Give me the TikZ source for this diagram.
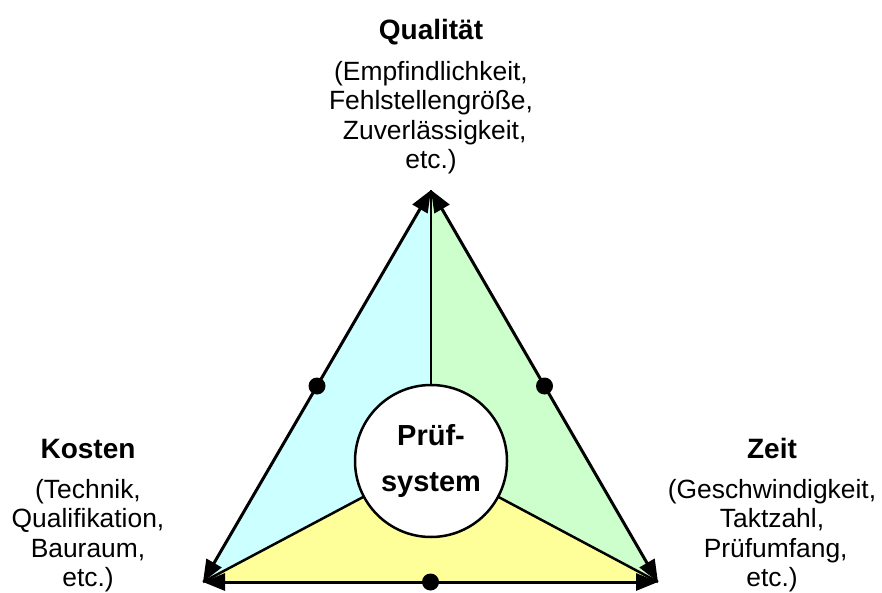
\documentclass[tikz,border=0pt]{standalone}
\usepackage{fontspec}
\setmainfont{Liberation Sans}
\usetikzlibrary{arrows.meta, positioning}

\definecolor{costfill}{HTML}{CCFFFF}
\definecolor{timefill}{HTML}{CCFFCC}
\definecolor{basefill}{HTML}{FFFF99}

\begin{document}
\begin{tikzpicture}[
    x=1pt, y=-1pt,
    edge/.style={line width=3pt, -{Triangle[length=22pt, width=17pt]}},
    spoke/.style={line width=2.5pt},
    dot/.style={circle, fill=black, inner sep=0pt, minimum size=17pt},
    hub/.style={circle, draw, fill=white, line width=2.5pt, minimum size=152pt, inner sep=0pt, align=center, font=\bfseries\fontsize{29}{46}\selectfont},
    title/.style={anchor=base, inner sep=0pt, font=\bfseries\fontsize{28}{32}\selectfont},
    info/.style={anchor=north, inner sep=0pt, align=center, font=\fontsize{26.4}{29.5}\selectfont}
]
\useasboundingbox (0,0) rectangle (882,593);

% Corners and centre
\coordinate (top) at (431,190);
\coordinate (left) at (203,582);
\coordinate (right) at (658,582);
\coordinate (mid) at (431,461);

% Coloured sectors
\fill[costfill] (mid) -- (top) -- (left) -- cycle;
\fill[timefill] (mid) -- (top) -- (right) -- cycle;
\fill[basefill] (mid) -- (left) -- (right) -- cycle;

% Spokes
\draw[spoke] (mid) -- (top);
\draw[spoke] (mid) -- (left);
\draw[spoke] (mid) -- (right);

% Hub
\node[hub] (system) at (mid) {Prüf-\\system};

% Edges with midpoints
\path (top) -- (left) coordinate[midway] (costmid);
\path (top) -- (right) coordinate[midway] (timemid);
\path (left) -- (right) coordinate[midway] (basemid);
\draw[edge] (costmid) -- (top);
\draw[edge] (costmid) -- (left);
\draw[edge] (timemid) -- (top);
\draw[edge] (timemid) -- (right);
\draw[edge] (basemid) -- (left);
\draw[edge] (basemid) -- (right);
\node[dot] (costdot) at (costmid) {};
\node[dot] (timedot) at (timemid) {};
\node[dot] (basedot) at (basemid) {};

% Labels
\node[title] (quality) at (431,40) {Qualität};
\node[info] (qualityinfo) at (431,61) {(Empfindlichkeit,\\Fehlstellengröße,\\~Zuverlässigkeit,\\etc.)};
\node[title] (cost) at (88,458) {Kosten};
\node[info] (costinfo) at (88,479) {(Technik,\\Qualifikation,\\Bauraum,\\etc.)};
\node[title] (time) at (772,458) {Zeit};
\node[info] (timeinfo) at (772,479) {(Geschwindigkeit,\\Taktzahl,\\~Prüfumfang,\\etc.)};

\end{tikzpicture}
\end{document}
